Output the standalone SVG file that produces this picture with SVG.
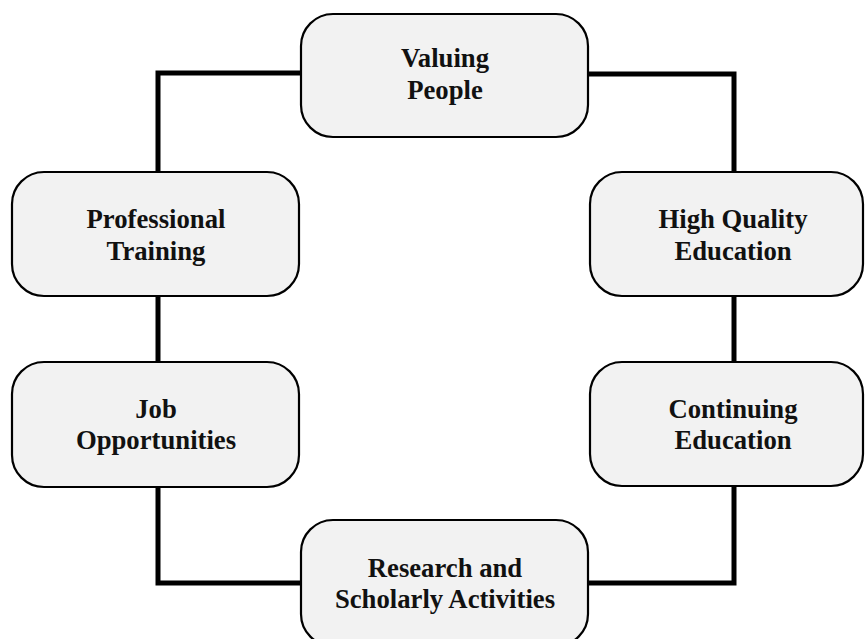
<svg xmlns="http://www.w3.org/2000/svg" width="865" height="639" viewBox="0 0 865 639">
<style>
.box{fill:#f2f2f2;stroke:#000;stroke-width:2.2}
.lbl{font-family:"Liberation Serif","Times New Roman",serif;font-weight:bold;font-size:26.7px;fill:#111;text-anchor:middle}
.conn{fill:none;stroke:#000;stroke-width:5;stroke-linejoin:miter}
</style>
<rect width="865" height="639" fill="#fff"/>
<g id="connectors">
<path class="conn" d="M301 73H158V172"/>
<path class="conn" d="M588 74H734V172"/>
<path class="conn" d="M158 296V362"/>
<path class="conn" d="M734 296V362"/>
<path class="conn" d="M158 487V583H301"/>
<path class="conn" d="M734 487V583H588"/>
</g>
<g id="valuing-people">
<rect class="box" x="301" y="14" width="287" height="123" rx="32"/>
<text class="lbl" x="445" y="67">Valuing</text>
<text class="lbl" x="445" y="99">People</text>
</g>
<g id="professional-training">
<rect class="box" x="12" y="172" width="287" height="124" rx="32"/>
<text class="lbl" x="156" y="228">Professional</text>
<text class="lbl" x="156" y="260">Training</text>
</g>
<g id="high-quality-education">
<rect class="box" x="590" y="172" width="273" height="124" rx="32"/>
<text class="lbl" x="733" y="228">High Quality</text>
<text class="lbl" x="733" y="260">Education</text>
</g>
<g id="job-opportunities">
<rect class="box" x="12" y="362" width="287" height="125" rx="32"/>
<text class="lbl" x="156" y="418">Job</text>
<text class="lbl" x="156" y="449">Opportunities</text>
</g>
<g id="continuing-education">
<rect class="box" x="590" y="362" width="273" height="124" rx="32"/>
<text class="lbl" x="733" y="418">Continuing</text>
<text class="lbl" x="733" y="449">Education</text>
</g>
<g id="research-scholarly-activities">
<rect class="box" x="301" y="520" width="287" height="126" rx="32"/>
<text class="lbl" x="445" y="577">Research and</text>
<text class="lbl" x="445" y="608">Scholarly Activities</text>
</g>
</svg>
